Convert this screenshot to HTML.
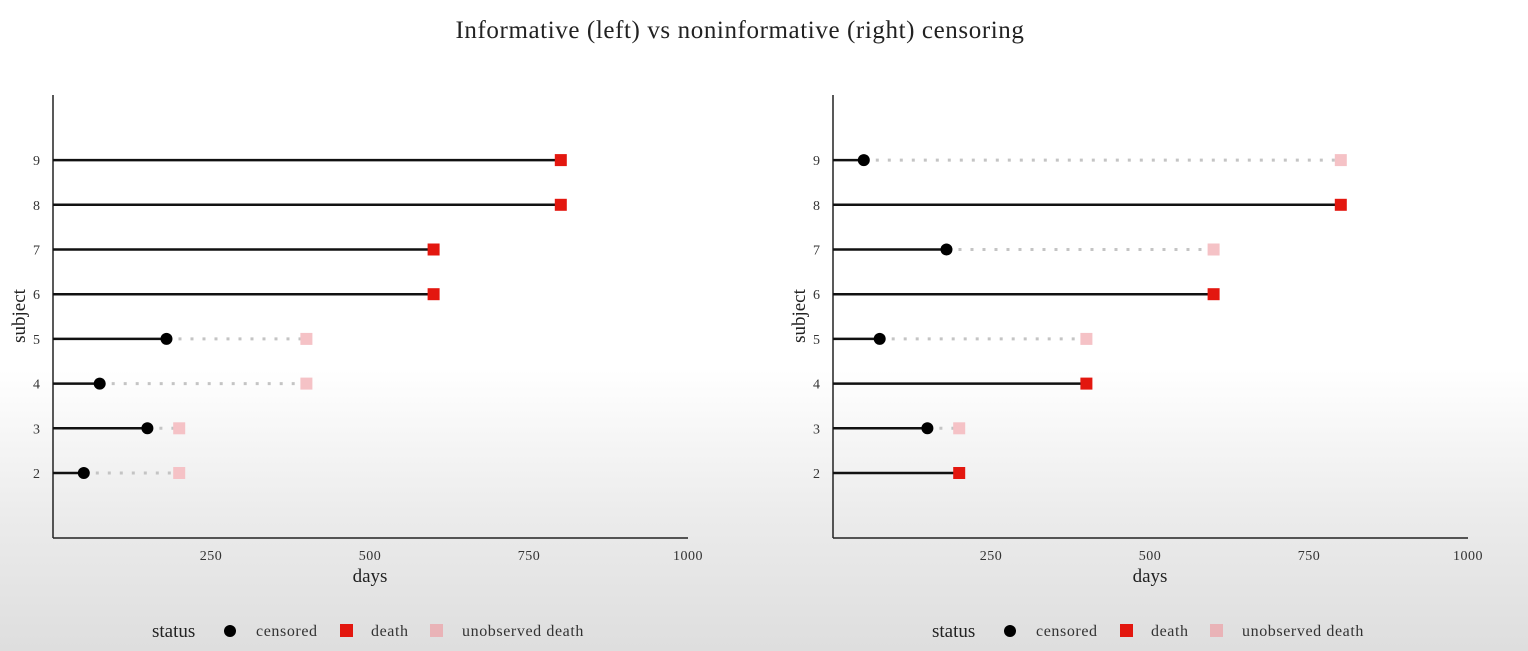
<!DOCTYPE html>
<html><head><meta charset="utf-8"><style>
body{margin:0;width:1528px;height:651px;overflow:hidden;background:linear-gradient(#fff 0px,#fff 370px,#ebebeb 520px,#dedede 651px);font-family:"Liberation Serif",serif;}
svg{position:absolute;left:0;top:0}
</style></head><body>
<svg id="c" width="1528" height="651">
<text x="740" y="38" text-anchor="middle" font-size="25" letter-spacing="0.6" fill="#222">Informative (left) vs noninformative (right) censoring</text>
</svg>
<script>
const subjects=[2,3,4,5,6,7,8,9];
const leftCensor=[50,150,75,180,null,null,null,null];
const leftEnd=[200,200,400,400,600,600,800,800];
const leftStatus=["u","u","u","u","d","d","d","d"];
const rightCensor=[null,150,null,75,null,180,null,50];
const rightEnd=[200,200,400,400,600,600,800,800];
const rightStatus=["d","u","d","u","d","u","d","u"];
const xTicks=[250,500,750,1000];
const yTicks=[2,3,4,5,6,7,8,9];
const svg=document.getElementById('c');
const NS='http://www.w3.org/2000/svg';
function mk(t,a,txt){const e=document.createElementNS(NS,t);for(const k in a)e.setAttribute(k,a[k]);if(txt!==undefined)e.textContent=txt;svg.appendChild(e);return e;}
function panel(x0,cens,ends,stat,side){
  const xs=v=>x0+v*0.636, ys=v=>473-(v-2)*44.7;
  let e=mk('line',{x1:x0+1,y1:95,x2:x0+1,y2:538,stroke:'#222','stroke-width':1.5});
  
  e=mk('line',{x1:x0+1,y1:538,x2:xs(1000),y2:538,stroke:'#222','stroke-width':1.5});
  
  xTicks.forEach(t=>{e=mk('text',{x:xs(t),y:560,'text-anchor':'middle','font-size':14,'letter-spacing':0.5,fill:'#333'},t);
    });
  yTicks.forEach(t=>{e=mk('text',{x:x0-12,y:ys(t)+5,'text-anchor':'end','font-size':14,fill:'#333'},t);
    });
  e=mk('text',{x:xs(500),y:582,'text-anchor':'middle','font-size':19,fill:'#222'},'days');
  
  e=mk('text',{x:x0-27,y:316,'text-anchor':'middle','font-size':19,fill:'#222',transform:`rotate(-90 ${x0-27} 316)`},'subject');
  
  subjects.forEach((s,i)=>{
    const y=ys(s), end=xs(ends[i]);
    if(stat[i]==='d'){
      e=mk('line',{x1:x0+1,y1:y,x2:end,y2:y,stroke:'#111','stroke-width':2.5});
      
      e=mk('rect',{x:end-6,y:y-6,width:12,height:12,fill:'#e3170f'});
      
    }else{
      const c=xs(cens[i]);
      e=mk('line',{x1:x0+1,y1:y,x2:c,y2:y,stroke:'#111','stroke-width':2.5});
      
      e=mk('line',{x1:c,y1:y,x2:end,y2:y,stroke:'#c4c4c4','stroke-width':3,'stroke-dasharray':'3 9'});
      
      e=mk('rect',{x:end-6,y:y-6,width:12,height:12,fill:'#f5c2c6'});
      
      e=mk('circle',{cx:c,cy:y,r:6,fill:'#000'});
      
    }
  });
  const lx=x0+100;
  e=mk('text',{x:lx,y:637,'font-size':19,fill:'#222'},'status');
  e=mk('circle',{cx:lx+78,cy:631,r:6,fill:'#000'});
  e=mk('text',{x:lx+104,y:636,'font-size':16,'letter-spacing':0.6,fill:'#333'},'censored');
  e=mk('rect',{x:lx+188,y:624,width:13,height:13,fill:'#e3170f'});
  e=mk('text',{x:lx+219,y:636,'font-size':16,'letter-spacing':0.6,fill:'#333'},'death');
  e=mk('rect',{x:lx+278,y:624,width:13,height:13,fill:'#e9b3b7'});
  e=mk('text',{x:lx+310,y:636,'font-size':16,'letter-spacing':0.6,fill:'#333'},'unobserved death');
}
panel(52,leftCensor,leftEnd,leftStatus,'left');
panel(832,rightCensor,rightEnd,rightStatus,'right');
</script>
</body></html>
